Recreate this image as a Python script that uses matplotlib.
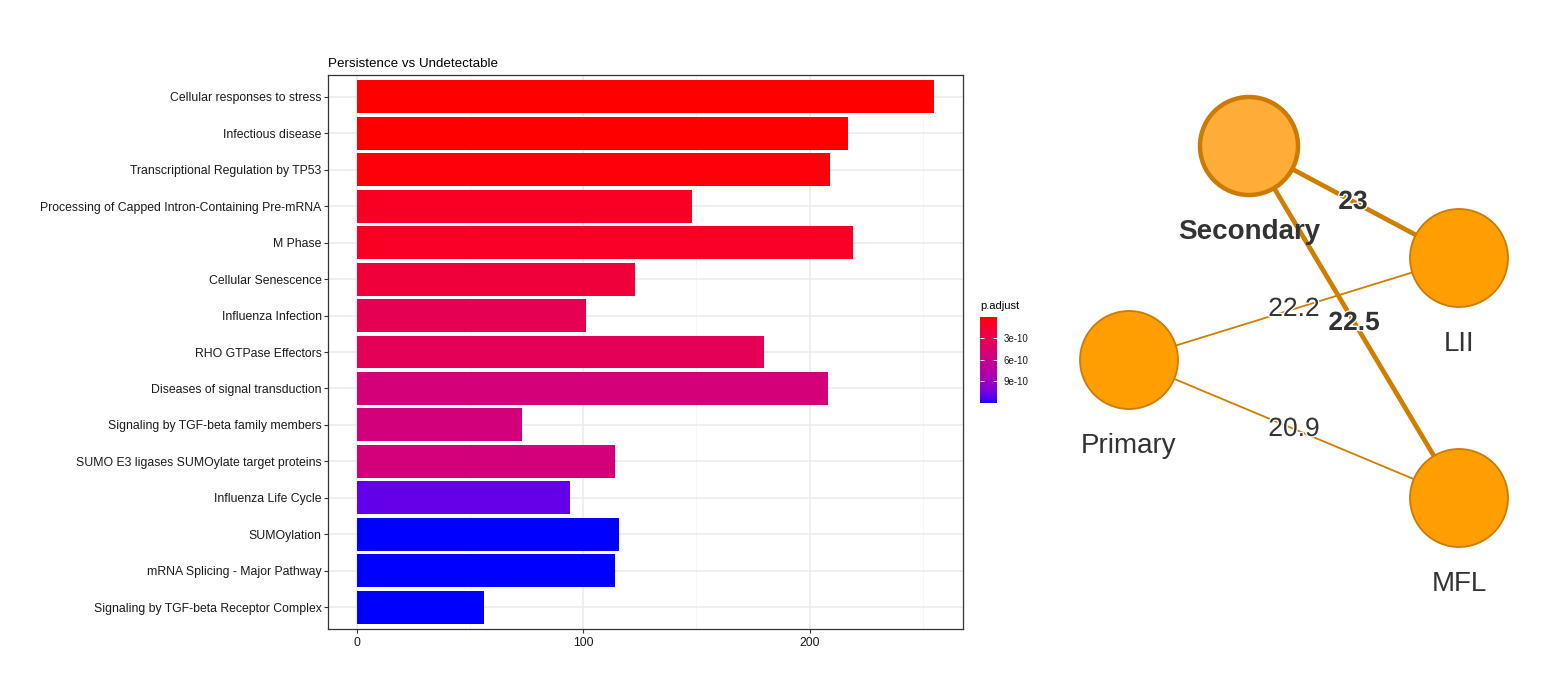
import numpy as np
import matplotlib
matplotlib.use("Agg")
import matplotlib.pyplot as plt
import matplotlib.patheffects as pe
from matplotlib.colors import ListedColormap, Normalize
from matplotlib.cm import ScalarMappable
from matplotlib.patches import Circle

plt.rcParams['font.family'] = ['Liberation Sans', 'DejaVu Sans']

# Data: enrichment bars (top to bottom)
pathways = [
    "Cellular responses to stress",
    "Infectious disease",
    "Transcriptional Regulation by TP53",
    "Processing of Capped Intron-Containing Pre-mRNA",
    "M Phase",
    "Cellular Senescence",
    "Influenza Infection",
    "RHO GTPase Effectors",
    "Diseases of signal transduction",
    "Signaling by TGF-beta family members",
    "SUMO E3 ligases SUMOylate target proteins",
    "Influenza Life Cycle",
    "SUMOylation",
    "mRNA Splicing - Major Pathway",
    "Signaling by TGF-beta Receptor Complex",
]
counts = [255, 217, 209, 148, 219, 123, 101, 180, 208, 73, 114, 94, 116, 114, 56]
p_adjust = [1e-13, 1e-12, 2e-11, 1.0e-10, 1.05e-10, 2.0e-10, 3.3e-10, 3.35e-10,
            5.2e-10, 5.25e-10, 5.3e-10, 1.1e-9, 1.21e-9, 1.21e-9, 1.21e-9]
x_ticks = [0, 100, 200]
cbar_ticks = [3e-10, 6e-10, 9e-10]
cbar_labels = ["3e-10", "6e-10", "9e-10"]

# Data: network
node_names = ["Secondary", "LII", "Primary", "MFL"]
node_x = [1249, 1459, 1129, 1459]
node_y = [146, 258, 360, 498]
edges = [("Secondary", "LII"), ("Secondary", "MFL"), ("Primary", "LII"), ("Primary", "MFL")]
edge_weights = ["23", "22.5", "22.2", "20.9"]
edge_bold = [True, True, False, False]
edge_label_x = [1353, 1354, 1294, 1294]
edge_label_y = [202, 323, 309, 429]


def srgb_to_lab(rgb):
    rgb = np.asarray(rgb, dtype=float)
    lin = np.where(rgb <= 0.04045, rgb / 12.92, ((rgb + 0.055) / 1.055) ** 2.4)
    m = np.array([[0.4124564, 0.3575761, 0.1804375],
                  [0.2126729, 0.7151522, 0.0721750],
                  [0.0193339, 0.1191920, 0.9503041]])
    xyz = m @ lin / np.array([0.95047, 1.0, 1.08883])
    f = np.where(xyz > 0.008856, np.cbrt(xyz), 7.787 * xyz + 16 / 116)
    return np.array([116 * f[1] - 16, 500 * (f[0] - f[1]), 200 * (f[1] - f[2])])


def lab_to_srgb(lab):
    L, a, b = lab
    fy = (L + 16) / 116
    fx = fy + a / 500
    fz = fy - b / 200
    f = np.array([fx, fy, fz])
    xyz = np.where(f ** 3 > 0.008856, f ** 3, (f - 16 / 116) / 7.787)
    xyz = xyz * np.array([0.95047, 1.0, 1.08883])
    m = np.array([[3.2404542, -1.5371385, -0.4985314],
                  [-0.9692660, 1.8760108, 0.0415560],
                  [0.0556434, -0.2040259, 1.0572252]])
    lin = np.clip(m @ xyz, 0, 1)
    rgb = np.where(lin <= 0.0031308, 12.92 * lin, 1.055 * lin ** (1 / 2.4) - 0.055)
    return np.clip(rgb, 0, 1)


# red -> blue gradient interpolated in CIELAB, like ggplot's continuous scale
lab_lo = srgb_to_lab([1, 0, 0])
lab_hi = srgb_to_lab([0, 0, 1])
cmap = ListedColormap([lab_to_srgb(lab_lo + t * (lab_hi - lab_lo)) for t in np.linspace(0, 1, 256)])
norm = Normalize(vmin=min(p_adjust), vmax=max(p_adjust))

W, H = 1554, 689
fig = plt.figure(figsize=(W / 100, H / 100), dpi=100)

# Bar chart
ax = fig.add_axes([328 / W, 1 - 629 / H, (963 - 328) / W, (629 - 75) / H])
ypos = np.arange(len(pathways))
ax.barh(ypos, counts, height=0.9, color=cmap(norm(p_adjust)), zorder=2)
ax.set_ylim(len(pathways) - 1 + 0.6, -0.6)
xmax = max(counts)
ax.set_xlim(-0.05 * xmax, 1.05 * xmax)
ax.set_yticks(ypos)
ax.set_yticklabels(pathways)
ax.set_xticks(x_ticks)
ax.set_xticks([50, 150, 250], minor=True)
ax.grid(True, which='major', color='#ebebeb', linewidth=1.1, zorder=0)
ax.grid(True, which='minor', axis='x', color='#f4f4f4', linewidth=0.6, zorder=0)
ax.set_axisbelow(True)
ax.tick_params(axis='both', which='major', length=3, width=0.8, color='#333333',
               labelsize=8.8, labelcolor='#1a1a1a', pad=1.5)
ax.tick_params(axis='x', which='major', pad=3)
ax.tick_params(axis='x', which='minor', length=0)
for spine in ax.spines.values():
    spine.set_color('#333333')
    spine.set_linewidth(0.9)
ax.set_title("Persistence vs Undetectable", loc='left', fontsize=9.6, color='black', pad=6)

# Colorbar legend
cax = fig.add_axes([980 / W, 1 - 403 / H, 17 / W, 86 / H])
cb = fig.colorbar(ScalarMappable(norm=norm, cmap=cmap), cax=cax)
cb.outline.set_visible(False)
cb.set_ticks(cbar_ticks)
cb.set_ticklabels(cbar_labels)
cax.tick_params(direction='in', length=3, width=0.7, color='white', left=True, right=True,
                labelsize=7, labelcolor='#1a1a1a', pad=5)
cax.invert_yaxis()
fig.text(980 / W, 1 - 306 / H, "p.adjust", fontsize=8, ha='left', va='center')

# Network graph
nax = fig.add_axes([1040 / W, 0, (W - 1040) / W, 1])
nax.set_xlim(1040, W)
nax.set_ylim(H, 0)
nax.set_aspect('equal', adjustable='box')
nax.axis('off')

pos = {n: (x, y) for n, x, y in zip(node_names, node_x, node_y)}
edge_col = '#D07E00'
for (a, b), bold in zip(edges, edge_bold):
    nax.plot([pos[a][0], pos[b][0]], [pos[a][1], pos[b][1]], color=edge_col,
             linewidth=3.4 if bold else 1.3, zorder=1, solid_capstyle='butt')
for w, bold, lx, ly in zip(edge_weights, edge_bold, edge_label_x, edge_label_y):
    nax.text(lx, ly, w, fontsize=19, fontweight='bold' if bold else 'normal',
             color='#333333', ha='center', va='center', zorder=3,
             path_effects=[pe.withStroke(linewidth=2, foreground='white')])

for n in node_names:
    selected = n == "Secondary"
    nax.add_patch(Circle(pos[n], 49, facecolor='#FFAD38' if selected else '#FF9E00',
                         edgecolor='#CC7A00', linewidth=3.2 if selected else 1.3, zorder=2))
    nax.text(pos[n][0], pos[n][1] + 86, n, fontsize=20,
             fontweight='bold' if selected else 'normal', color='#333333',
             ha='center', va='center', zorder=3)

fig.savefig("out.png", dpi=100)
